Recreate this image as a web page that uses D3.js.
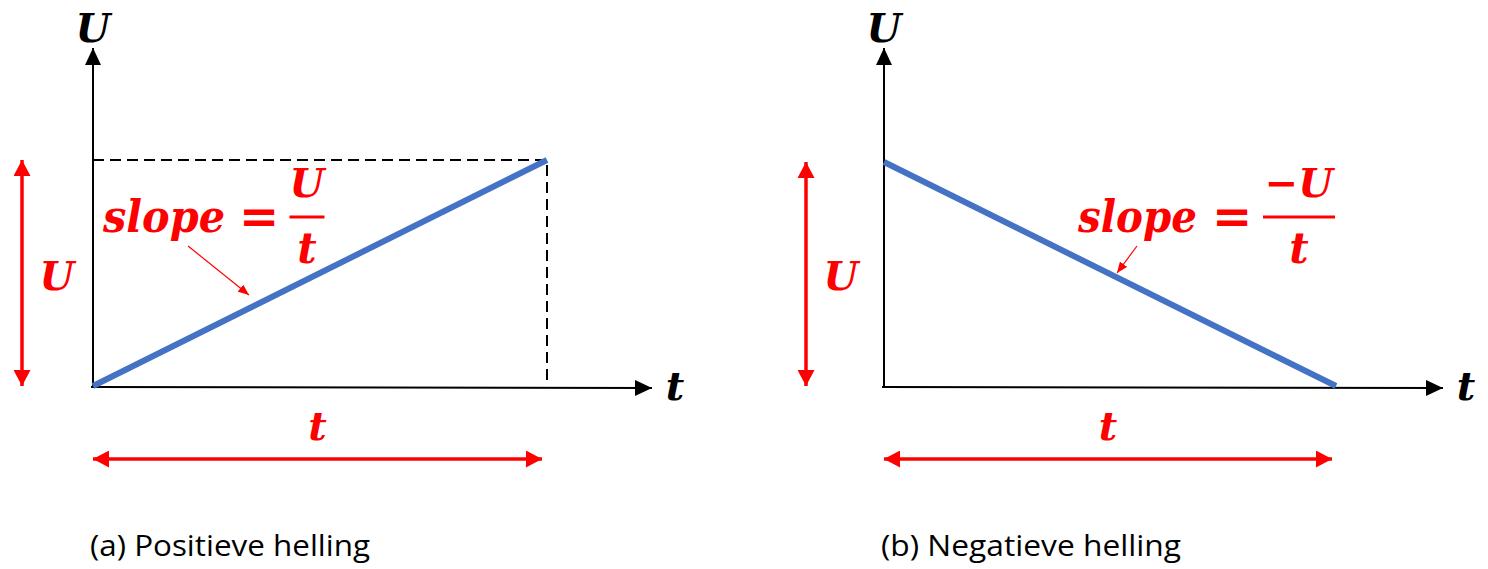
<!DOCTYPE html>
<html><head><meta charset="utf-8">
<script src="https://cdn.jsdelivr.net/npm/d3@7"></script>
<style>body{margin:0;background:#fff}svg{display:block}</style>
</head><body>
<svg id="c" width="1488" height="569"></svg>
<script>
// ---- data ----
const captions = ["(a) Positieve helling", "(b) Negatieve helling"];
const slopeNumerators = ["U", "\u2212U"];
const tValues = [0, 1];
const positiveU = [0, 1];
const negativeU = [1, 0];
const axisLabels = ["U", "t"];

const svg = d3.select("#c");
const RED = "#ff0000", BLUE = "#4472c4";
const mathFont = "'DejaVu Serif', serif";

// arrow heads
const defs = svg.append("defs");
function marker(id, color, w, h, orient) {
  defs.append("marker").attr("id", id).attr("viewBox", `0 0 ${w} ${h}`)
    .attr("refX", w).attr("refY", h / 2).attr("markerWidth", w).attr("markerHeight", h)
    .attr("markerUnits", "userSpaceOnUse").attr("orient", orient)
    .append("path").attr("d", `M0,0L${w},${h/2}L0,${h}Z`).attr("fill", color);
}
marker("ax", "#000", 17, 16, "auto");
marker("rd", RED, 16, 17, "auto-start-reverse");
marker("sm", RED, 11, 9, "auto");

const panels = [
  {x0: 93, x1: 547, y0: 386, y1: 160, axEndX: 652, axEndY: 48, values: positiveU,
   vArrX: 22, hArrEnd: 542, dashed: true,
   slopeX: 103, slopeW: 122, eqX: 259, fracX: 307, barW: 35, annot: [[188, 246], [249, 295]], capW: 280},
  {x0: 884, x1: 1336, y0: 386, y1: 162, axEndX: 1443, axEndY: 48, values: negativeU,
   vArrX: 806, hArrEnd: 1332, dashed: false,
   slopeX: 1078, slopeW: 119, eqX: 1232, fracX: 1299, barW: 72, annot: [[1137, 246], [1117, 273]], capW: 300}
];

panels.forEach((p, i) => {
  const g = svg.append("g");
  const x = d3.scaleLinear().domain([0, 1]).range([p.x0, p.x1]);
  const y = d3.scaleLinear().domain([0, 1]).range([p.y0, p.y1]);

  if (p.dashed) {
    g.append("path")
      .attr("d", `M${x(0)},${y(1)}H${x(1)}V${y(0)}`)
      .attr("fill", "none").attr("stroke", "#000").attr("stroke-width", 2)
      .attr("stroke-dasharray", "11,6");
  }
  // axes
  g.append("line").attr("x1", x(0)).attr("y1", y(0) + 1).attr("x2", x(0)).attr("y2", p.axEndY)
    .attr("stroke", "#000").attr("stroke-width", 2).attr("marker-end", "url(#ax)");
  g.append("line").attr("x1", x(0) - 2).attr("y1", y(0) + 1).attr("x2", p.axEndX).attr("y2", y(0) + 2)
    .attr("stroke", "#000").attr("stroke-width", 2).attr("marker-end", "url(#ax)");
  const bi = (sel, size, color) => sel.attr("font-family", mathFont).attr("font-weight", "bold")
    .attr("font-style", "italic").attr("font-size", size).attr("fill", color);
  bi(g.append("text").attr("x", x(0)).attr("y", 42).attr("text-anchor", "middle"), 40, "#000").text(axisLabels[0]);
  bi(g.append("text").attr("x", p.axEndX + 23).attr("y", y(0) + 14).attr("text-anchor", "middle"), 40, "#000").text(axisLabels[1]);

  // blue line
  const line = d3.line().x((d, j) => x(tValues[j])).y(d => y(d));
  g.append("path").datum(p.values).attr("d", line)
    .attr("fill", "none").attr("stroke", BLUE).attr("stroke-width", 6);

  // red vertical double arrow
  g.append("line").attr("x1", p.vArrX).attr("y1", y(0)).attr("x2", p.vArrX).attr("y2", y(1))
    .attr("stroke", RED).attr("stroke-width", 3.5)
    .attr("marker-start", "url(#rd)").attr("marker-end", "url(#rd)");
  bi(g.append("text").attr("x", p.vArrX + 35).attr("y", 290).attr("text-anchor", "middle"), 40, RED).text(axisLabels[0]);

  // red horizontal double arrow
  g.append("line").attr("x1", x(0)).attr("y1", 459).attr("x2", p.hArrEnd).attr("y2", 459)
    .attr("stroke", RED).attr("stroke-width", 3.5)
    .attr("marker-start", "url(#rd)").attr("marker-end", "url(#rd)");
  bi(g.append("text").attr("x", (x(0) + p.hArrEnd) / 2).attr("y", 440).attr("text-anchor", "middle"), 40, RED).text(axisLabels[1]);

  // slope formula
  bi(g.append("text").attr("x", p.slopeX).attr("y", 232), 45, RED)
    .attr("textLength", p.slopeW).attr("lengthAdjust", "spacingAndGlyphs").text("slope");
  g.append("text").attr("x", p.eqX).attr("y", 233).attr("text-anchor", "middle")
    .attr("font-family", mathFont).attr("font-weight", "bold")
    .attr("font-size", 48).attr("fill", RED).text("=");
  bi(g.append("text").attr("x", p.fracX).attr("y", 197).attr("text-anchor", "middle"), 40, RED).text(slopeNumerators[i]);
  g.append("line").attr("x1", p.fracX - p.barW / 2).attr("x2", p.fracX + p.barW / 2)
    .attr("y1", 217).attr("y2", 217).attr("stroke", RED).attr("stroke-width", 3);
  bi(g.append("text").attr("x", p.fracX).attr("y", 263).attr("text-anchor", "middle"), 42, RED).text("t");

  // annotation arrow
  g.append("line").attr("x1", p.annot[0][0]).attr("y1", p.annot[0][1])
    .attr("x2", p.annot[1][0]).attr("y2", p.annot[1][1])
    .attr("stroke", RED).attr("stroke-width", 1.2).attr("marker-end", "url(#sm)");

  // caption
  g.append("text").attr("x", x(0) - 3).attr("y", 556)
    .attr("font-family", "'Open Sans', sans-serif").attr("font-size", 30).attr("fill", "#000")
    .attr("textLength", p.capW).attr("lengthAdjust", "spacingAndGlyphs")
    .text(captions[i]);
});
</script>
</body></html>
